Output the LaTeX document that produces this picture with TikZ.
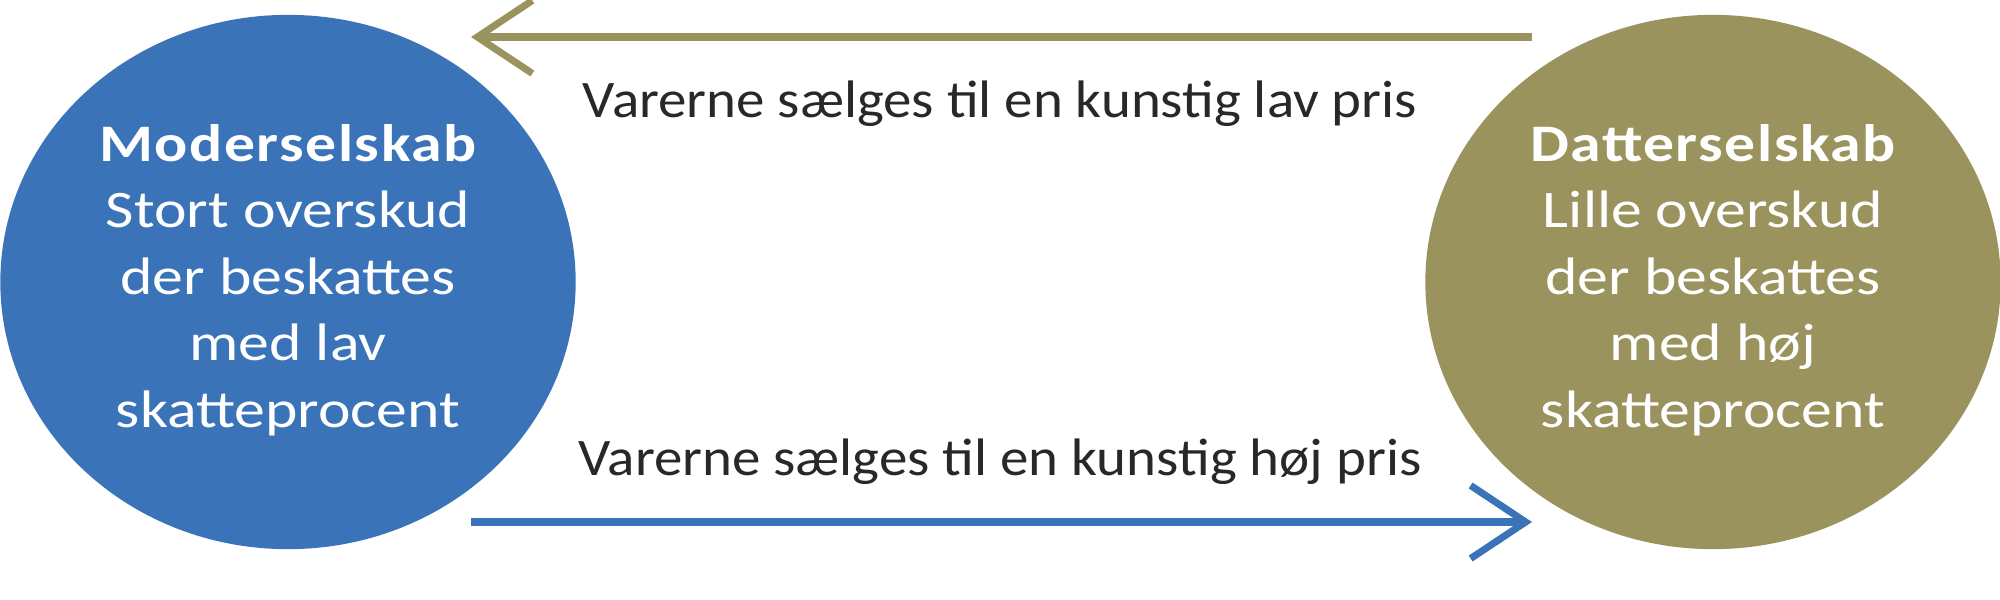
\documentclass[tikz,border=0pt]{standalone}
\usepackage{fontspec}
\setmainfont{Carlito}
\usetikzlibrary{shapes.geometric,arrows.meta}
\definecolor{firmblue}{RGB}{58,115,184}
\definecolor{firmolive}{RGB}{154,147,94}
\definecolor{labelgray}{RGB}{40,40,40}
\tikzset{
  company/.style={ellipse, inner sep=0pt, minimum width=5.75cm, minimum height=5.34cm},
  companytext/.style={text=white, align=center, inner sep=0pt, xscale=1.17, transform shape,
    font=\fontsize{15}{18.9}\selectfont},
  flow/.style={line width=2pt, -{Straight Barb[length=5.5mm, width=7.3mm]}},
  flowlabel/.style={anchor=base, text=labelgray, inner sep=0pt, xscale=1.08, transform shape,
    font=\fontsize{15}{18}\selectfont}
}
\newcommand{\firmtitle}[1]{{\bfseries\addfontfeatures{LetterSpace=2.5}#1}}
\begin{document}
\begin{tikzpicture}[x=0.01cm, y=-0.01cm]
\useasboundingbox (0,0) rectangle (2000,600);
\node[company, fill=firmblue] (mother) at (288,282) {};
\node[company, fill=firmolive] (daughter) at (1713,282) {};
\node[companytext] (mothertext) at ([yshift=0.02cm]mother.center)
  {\firmtitle{Moderselskab}\\Stort overskud\\der beskattes\\med lav\\skatteprocent};
\node[companytext] (daughtertext) at ([yshift=0.02cm]daughter.center)
  {\firmtitle{Datterselskab}\\Lille overskud\\der beskattes\\med høj\\skatteprocent};
\coordinate (topstart) at (1532,37);
\coordinate (topend) at (471,37);
\coordinate (botstart) at (471,522);
\coordinate (botend) at (1532,522);
\draw[flow, firmolive] (topstart) -- (topend);
\draw[flow, firmblue] (botstart) -- (botend);
\node[flowlabel] (toplabel) at (1000,117) {Varerne sælges til en kunstig lav pris};
\node[flowlabel] (botlabel) at (1000,475) {Varerne sælges til en kunstig høj pris};
\end{tikzpicture}
\end{document}
